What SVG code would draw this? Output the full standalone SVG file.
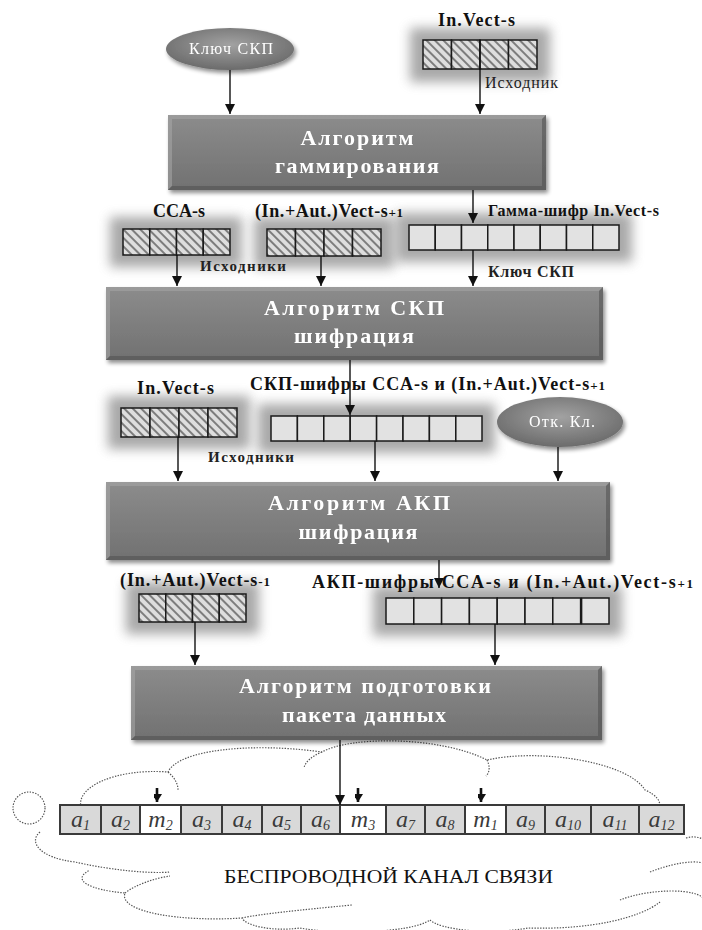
<svg xmlns="http://www.w3.org/2000/svg" width="702" height="930" viewBox="0 0 702 930">
<defs>
  <linearGradient id="boxg" x1="0" y1="0" x2="0" y2="1">
    <stop offset="0" stop-color="#8c8c8c"/>
    <stop offset="1" stop-color="#717171"/>
  </linearGradient>
  <radialGradient id="ellg" cx="0.5" cy="0.4" r="0.6">
    <stop offset="0" stop-color="#a2a2a2"/>
    <stop offset="1" stop-color="#6b6b6b"/>
  </radialGradient>
  <pattern id="hatch" width="6" height="6" patternUnits="userSpaceOnUse" patternTransform="rotate(-45)">
    <rect width="6" height="6" fill="#dedede"/>
    <line x1="3" y1="0" x2="3" y2="6" stroke="#727272" stroke-width="1.8"/>
  </pattern>
  <filter id="shadow" x="-10%" y="-10%" width="130%" height="140%">
    <feGaussianBlur in="SourceAlpha" stdDeviation="2"/>
    <feOffset dx="2" dy="3"/>
    <feComponentTransfer><feFuncA type="linear" slope="0.45"/></feComponentTransfer>
    <feMerge><feMergeNode/><feMergeNode in="SourceGraphic"/></feMerge>
  </filter>
  <filter id="glow" x="-40%" y="-80%" width="180%" height="260%">
    <feGaussianBlur stdDeviation="6"/>
  </filter>
  <marker id="ah" markerWidth="10" markerHeight="10" refX="10" refY="5" orient="auto" markerUnits="userSpaceOnUse">
    <path d="M0,0 L10,5 L0,10 Z" fill="#111"/>
  </marker>
  <marker id="ahs" markerWidth="10" markerHeight="8" refX="8" refY="5" orient="auto" markerUnits="userSpaceOnUse">
    <path d="M0,0 L8,5 L0,10 Z" fill="#111"/>
  </marker>
</defs>
<style>
  .box { fill: url(#boxg); }
  .bl { fill: #a8a8a8; opacity: 0.55; }
  .bd { fill: #4e4e4e; opacity: 0.55; }
  .bt { font-family: "Liberation Serif", serif; font-weight: bold; font-size: 22px; fill: #ffffff; text-anchor: middle; }
  .ell { fill: url(#ellg); }
  .et { font-family: "Liberation Serif", serif; font-size: 16px; fill: #ffffff; }
  .lbl { font-family: "Liberation Serif", serif; font-weight: bold; font-size: 18px; fill: #111; }
  .sub { font-size: 13px; }
  .small { font-family: "Liberation Serif", serif; font-size: 16px; fill: #222; }
  .smallb { font-family: "Liberation Serif", serif; font-weight: bold; font-size: 15px; fill: #222; }
  .glow { fill: #7a7a7a; opacity: 0.65; }
  .hc { fill: url(#hatch); stroke: #1a1a1a; stroke-width: 1.5; }
  .pc { fill: #e2e2e2; stroke: #1a1a1a; stroke-width: 1.5; }
  .conn line { stroke: #111; stroke-width: 1.4; marker-end: url(#ah); }
  .conn line.sm { stroke-width: 2.6; marker-end: url(#ahs); }
  .sa { fill: #d9d9d9; stroke: #3a3a3a; stroke-width: 2; }
  .sm_ { fill: #ffffff; stroke: #3a3a3a; stroke-width: 2; }
  .st { font-family: "Liberation Serif", serif; font-style: italic; font-size: 24px; fill: #3a3a3a; text-anchor: middle; }
  .ss { font-size: 14px; }
  .cloud { fill: none; stroke: #555; stroke-width: 1.2; stroke-dasharray: 1.4 1.4; }
  .ct { font-family: "Liberation Serif", serif; font-size: 18px; fill: #111; }
</style>

<!-- Cloud (wireless channel) -->
<g id="cloud">
  <path class="cloud" d="M82,810 C72,788 115,768 168,772 C178,750 250,742 322,752 C350,736 440,736 487,760 C540,748 628,762 645,790 C668,800 662,815 640,812
     M686,838 C700,834 712,842 704,850 M650,872 C680,860 712,858 706,870 M620,900 C650,888 700,888 704,900
     M660,902 C640,918 590,930 528,928 C490,935 440,930 430,920 C410,934 330,934 300,928 C270,932 245,925 242,918
     C180,922 118,912 125,893 C90,890 70,880 90,870 M40,832 C28,842 40,858 75,862 C110,870 150,874 170,872"/>
  <path class="cloud" d="M168,772 C175,778 178,784 178,790 M322,752 C312,756 305,762 304,768 M487,760 C490,766 490,772 486,776 M125,893 C135,885 155,878 170,876 M242,918 C260,914 300,910 352,905"/>
  <circle class="cloud" cx="29" cy="808" r="16"/>
  <text class="ct" x="224" y="883" textLength="329" lengthAdjust="spacingAndGlyphs">БЕСПРОВОДНОЙ  КАНАЛ СВЯЗИ</text>
</g>

<!-- Array glows -->
<g id="glows">
  <rect class="glow" x="410" y="28" width="140" height="54" filter="url(#glow)"/>
  <rect class="glow" x="110" y="217" width="132" height="50" filter="url(#glow)"/>
  <rect class="glow" x="254" y="217" width="140" height="51" filter="url(#glow)"/>
  <rect class="glow" x="396" y="213" width="236" height="49" filter="url(#glow)"/>
  <rect class="glow" x="108" y="396" width="142" height="53" filter="url(#glow)"/>
  <rect class="glow" x="258" y="404" width="237" height="49" filter="url(#glow)"/>
  <rect class="glow" x="126" y="582" width="133" height="52" filter="url(#glow)"/>
  <rect class="glow" x="373" y="586" width="249" height="50" filter="url(#glow)"/>
</g>

<!-- Top inputs -->
<g id="key-skp-1" filter="url(#shadow)">
  <ellipse class="ell" cx="230" cy="49" rx="64" ry="21"/>
  <text class="et" x="189" y="54" textLength="84">Ключ СКП</text>
</g>
<g id="invect-top">
  <text class="lbl" x="438" y="26" textLength="77">In.Vect-s</text>
  <rect class="hc" x="423" y="40" width="28.5" height="29"/>
  <rect class="hc" x="451.5" y="40" width="28.5" height="29"/>
  <rect class="hc" x="480" y="40" width="28.5" height="29"/>
  <rect class="hc" x="508.5" y="40" width="28.5" height="29"/>
  <text class="small" x="485" y="88" textLength="73">Исходник</text>
</g>

<!-- Box 1 -->
<g id="box-gamma" filter="url(#shadow)">
  <rect class="box" x="168" y="115" width="378" height="75"/>
  <path class="bl" d="M168,115 H546 L542,119 H172 V186 L168,190 Z"/>
  <path class="bd" d="M546,115 V190 H168 L172,186 H542 V119 Z"/>
  <text class="bt" x="357" y="145" textLength="113">Алгоритм</text>
  <text class="bt" x="357" y="173" textLength="164">гаммирования</text>
</g>

<!-- Row 2 -->
<g id="cca-s-1">
  <text class="lbl" x="153" y="217" textLength="52">CCA-s</text>
  <rect class="hc" x="123" y="229" width="26.75" height="26"/>
  <rect class="hc" x="149.75" y="229" width="26.75" height="26"/>
  <rect class="hc" x="176.5" y="229" width="26.75" height="26"/>
  <rect class="hc" x="203.25" y="229" width="26.75" height="26"/>
  <text class="smallb" x="200" y="271" textLength="86">Исходники</text>
</g>
<g id="inaut-s1">
  <text class="lbl" x="255" y="217" textLength="148">(In.+Aut.)Vect-s<tspan class="sub">+1</tspan></text>
  <rect class="hc" x="267" y="229" width="28.5" height="27"/>
  <rect class="hc" x="295.5" y="229" width="28.5" height="27"/>
  <rect class="hc" x="324" y="229" width="28.5" height="27"/>
  <rect class="hc" x="352.5" y="229" width="28.5" height="27"/>
</g>
<g id="gamma-cipher">
  <text class="lbl" x="488" y="216" textLength="171" style="font-size:16px">Гамма-шифр In.Vect-s</text>
  <rect class="pc" x="409" y="225" width="26.25" height="25"/>
  <rect class="pc" x="435.25" y="225" width="26.25" height="25"/>
  <rect class="pc" x="461.5" y="225" width="26.25" height="25"/>
  <rect class="pc" x="487.75" y="225" width="26.25" height="25"/>
  <rect class="pc" x="514" y="225" width="26.25" height="25"/>
  <rect class="pc" x="540.25" y="225" width="26.25" height="25"/>
  <rect class="pc" x="566.5" y="225" width="26.25" height="25"/>
  <rect class="pc" x="592.75" y="225" width="26.25" height="25"/>
  <text class="smallb" x="488" y="277" textLength="86" style="font-size:16px">Ключ СКП</text>
</g>

<!-- Box 2 -->
<g id="box-skp" filter="url(#shadow)">
  <rect class="box" x="106" y="287" width="497" height="73"/>
  <path class="bl" d="M106,287 H603 L599,291 H110 V356 L106,360 Z"/>
  <path class="bd" d="M603,287 V360 H106 L110,356 H599 V291 Z"/>
  <text class="bt" x="354" y="315" textLength="180">Алгоритм  СКП</text>
  <text class="bt" x="354" y="343" textLength="120">шифрация</text>
</g>

<!-- Row 3 -->
<g id="invect-mid">
  <text class="lbl" x="137" y="394" textLength="77">In.Vect-s</text>
  <rect class="hc" x="121" y="408" width="29" height="29"/>
  <rect class="hc" x="150" y="408" width="29" height="29"/>
  <rect class="hc" x="179" y="408" width="29" height="29"/>
  <rect class="hc" x="208" y="408" width="29" height="29"/>
  <text class="smallb" x="208" y="462" textLength="86">Исходники</text>
</g>
<g id="skp-ciphers">
  <text class="lbl" x="250" y="390" textLength="355">СКП-шифры  CCA-s и (In.+Aut.)Vect-s<tspan class="sub">+1</tspan></text>
  <rect class="pc" x="271" y="416" width="26.4" height="25"/>
  <rect class="pc" x="297.4" y="416" width="26.4" height="25"/>
  <rect class="pc" x="323.8" y="416" width="26.4" height="25"/>
  <rect class="pc" x="350.2" y="416" width="26.4" height="25"/>
  <rect class="pc" x="376.6" y="416" width="26.4" height="25"/>
  <rect class="pc" x="403" y="416" width="26.4" height="25"/>
  <rect class="pc" x="429.4" y="416" width="26.4" height="25"/>
  <rect class="pc" x="455.8" y="416" width="26.2" height="25"/>
</g>
<g id="open-key" filter="url(#shadow)">
  <ellipse class="ell" cx="560" cy="422" rx="63" ry="25"/>
  <text class="et" x="529" y="427" textLength="66">Отк. Кл.</text>
</g>

<!-- Box 3 -->
<g id="box-akp" filter="url(#shadow)">
  <rect class="box" x="106" y="482" width="504" height="78"/>
  <path class="bl" d="M106,482 H610 L606,486 H110 V556 L106,560 Z"/>
  <path class="bd" d="M610,482 V560 H106 L110,556 H606 V486 Z"/>
  <text class="bt" x="359" y="510" textLength="182">Алгоритм  АКП</text>
  <text class="bt" x="358" y="539" textLength="119">шифрация</text>
</g>

<!-- Row 4 -->
<g id="inaut-s-1">
  <text class="lbl" x="120" y="586" textLength="150">(In.+Aut.)Vect-s<tspan class="sub">-1</tspan></text>
  <rect class="hc" x="139" y="594" width="26.75" height="28"/>
  <rect class="hc" x="165.75" y="594" width="26.75" height="28"/>
  <rect class="hc" x="192.5" y="594" width="26.75" height="28"/>
  <rect class="hc" x="219.25" y="594" width="26.75" height="28"/>
</g>
<g id="akp-ciphers">
  <text class="lbl" x="312" y="588" textLength="381">АКП-шифры  CCA-s  и  (In.+Aut.)Vect-s<tspan class="sub">+1</tspan></text>
  <rect class="pc" x="386" y="598" width="27.8" height="26"/>
  <rect class="pc" x="413.8" y="598" width="27.8" height="26"/>
  <rect class="pc" x="441.6" y="598" width="27.8" height="26"/>
  <rect class="pc" x="469.4" y="598" width="27.8" height="26"/>
  <rect class="pc" x="497.2" y="598" width="27.8" height="26"/>
  <rect class="pc" x="525" y="598" width="27.8" height="26"/>
  <rect class="pc" x="552.8" y="598" width="27.8" height="26"/>
  <rect class="pc" x="581.6" y="598" width="27.4" height="26"/>
</g>

<!-- Box 4 -->
<g id="box-packet" filter="url(#shadow)">
  <rect class="box" x="131" y="666" width="471" height="74"/>
  <path class="bl" d="M131,666 H602 L598,670 H135 V736 L131,740 Z"/>
  <path class="bd" d="M602,666 V740 H131 L135,736 H598 V670 Z"/>
  <text class="bt" x="365" y="693" textLength="252">Алгоритм  подготовки</text>
  <text class="bt" x="364" y="722" textLength="164">пакета данных</text>
</g>

<!-- Packet strip -->
<g id="packet">
  <rect class="sa" x="60" y="805" width="41" height="29"/>
  <rect class="sa" x="101" y="805" width="39" height="29"/>
  <rect class="sm_" x="140" y="805" width="41" height="29"/>
  <rect class="sa" x="181" y="805" width="41" height="29"/>
  <rect class="sa" x="222" y="805" width="40" height="29"/>
  <rect class="sa" x="262" y="805" width="39" height="29"/>
  <rect class="sa" x="301" y="805" width="39" height="29"/>
  <rect class="sm_" x="340" y="805" width="46" height="29"/>
  <rect class="sa" x="386" y="805" width="39" height="29"/>
  <rect class="sa" x="425" y="805" width="40" height="29"/>
  <rect class="sm_" x="465" y="805" width="41" height="29"/>
  <rect class="sa" x="506" y="805" width="39" height="29"/>
  <rect class="sa" x="545" y="805" width="46" height="29"/>
  <rect class="sa" x="591" y="805" width="48" height="29"/>
  <rect class="sa" x="639" y="805" width="45" height="29"/>
  <text class="st" x="80.5" y="827">a<tspan class="ss" dy="3">1</tspan></text>
  <text class="st" x="120.5" y="827">a<tspan class="ss" dy="3">2</tspan></text>
  <text class="st" x="160.5" y="827">m<tspan class="ss" dy="3">2</tspan></text>
  <text class="st" x="201.5" y="827">a<tspan class="ss" dy="3">3</tspan></text>
  <text class="st" x="242" y="827">a<tspan class="ss" dy="3">4</tspan></text>
  <text class="st" x="281.5" y="827">a<tspan class="ss" dy="3">5</tspan></text>
  <text class="st" x="320.5" y="827">a<tspan class="ss" dy="3">6</tspan></text>
  <text class="st" x="363" y="827">m<tspan class="ss" dy="3">3</tspan></text>
  <text class="st" x="405.5" y="827">a<tspan class="ss" dy="3">7</tspan></text>
  <text class="st" x="445" y="827">a<tspan class="ss" dy="3">8</tspan></text>
  <text class="st" x="485.5" y="827">m<tspan class="ss" dy="3">1</tspan></text>
  <text class="st" x="525.5" y="827">a<tspan class="ss" dy="3">9</tspan></text>
  <text class="st" x="568" y="827">a<tspan class="ss" dy="3">10</tspan></text>
  <text class="st" x="615" y="827">a<tspan class="ss" dy="3">11</tspan></text>
  <text class="st" x="661.5" y="827">a<tspan class="ss" dy="3">12</tspan></text>
</g>

<!-- Connectors -->
<g id="connectors" class="conn">
  <line x1="230" y1="70" x2="230" y2="114"/>
  <line x1="480" y1="40" x2="480" y2="114"/>
  <line x1="473" y1="190" x2="473" y2="223"/>
  <line x1="177" y1="255" x2="177" y2="286"/>
  <line x1="321" y1="256" x2="321" y2="286"/>
  <line x1="473" y1="250" x2="473" y2="286"/>
  <line x1="350" y1="360" x2="350" y2="415"/>
  <line x1="178" y1="437" x2="178" y2="481"/>
  <line x1="375" y1="441" x2="375" y2="481"/>
  <line x1="558" y1="447" x2="558" y2="481"/>
  <line x1="439" y1="560" x2="439" y2="588"/>
  <line x1="195" y1="622" x2="195" y2="665"/>
  <line x1="495" y1="624" x2="495" y2="665"/>
  <line x1="340" y1="740" x2="340" y2="805"/>
  <line class="sm" x1="157" y1="788" x2="157" y2="802"/>
  <line class="sm" x1="358" y1="788" x2="358" y2="802"/>
  <line class="sm" x1="481" y1="788" x2="481" y2="802"/>
</g>
</svg>
